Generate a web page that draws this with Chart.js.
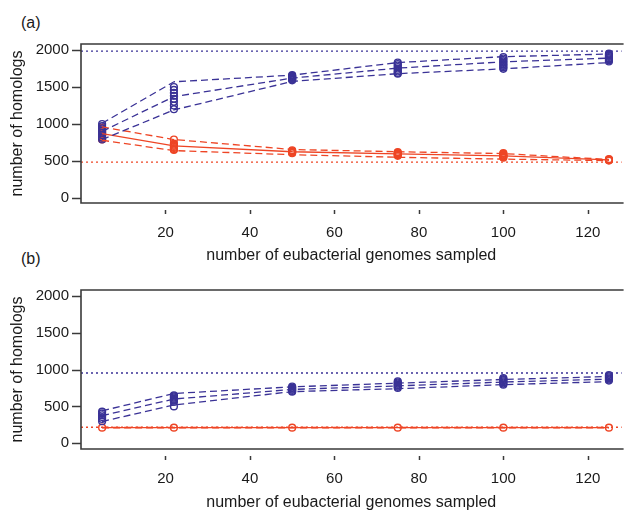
<!DOCTYPE html>
<html><head><meta charset="utf-8">
<script src="https://cdn.jsdelivr.net/npm/chart.js@4.4.1/dist/chart.umd.min.js"></script>
<style>
html,body{margin:0;padding:0;background:#fff;width:627px;height:510px;overflow:hidden;}
.wrap{position:absolute;left:0;width:627px;}
.lab{position:absolute;font-family:"Liberation Sans",Arial,sans-serif;font-size:16px;color:#1a1a1a;line-height:18px;}
</style></head><body>
<div class="lab" style="left:21px;top:14px">(a)</div>
<div class="lab" style="left:21px;top:250px">(b)</div>
<div class="wrap" style="top:0;height:270px"><canvas id="ca"></canvas></div>
<div class="wrap" style="top:250px;height:260px"><canvas id="cb"></canvas></div>
<script>
// ---- data ----
const genomes = [5, 22, 50, 75, 100, 125];
const xTickValues = [20, 40, 60, 80, 100, 120];
const yTickValues = [0, 500, 1000, 1500, 2000];
const xTitle = "number of eubacterial genomes sampled";
const yTitle = "number of homologs";

// panel (a)
const blueUpperA = [1010, 1570, 1660, 1830, 1910, 1945];
const blueMidA   = [900, 1370, 1620, 1755, 1840, 1890];
const blueLowerA = [790, 1190, 1575, 1680, 1745, 1830];
const bluePtsA = [
  [1000, 970, 940, 910, 880, 850, 815, 790],
  [1500, 1460, 1420, 1380, 1340, 1300, 1250, 1200],
  [1660, 1650, 1640, 1630, 1620, 1610, 1600, 1590],
  [1830, 1810, 1790, 1770, 1750, 1730, 1710, 1690, 1680],
  [1905, 1885, 1865, 1845, 1825, 1805, 1785, 1765, 1745],
  [1950, 1935, 1920, 1905, 1890, 1875, 1860, 1845]
];
const redMeanA  = [870, 705, 625, 595, 570, 515];
const redUpperA = [960, 790, 655, 625, 600, 520];
const redLowerA = [780, 640, 585, 550, 525, 505];
const redPtsA = [
  [950, 925, 905, 890, 875, 860, 845, 830, 810, 790],
  [790, 735, 720, 705, 690, 675, 660, 650],
  [645, 635, 625, 615, 605],
  [620, 610, 600, 590, 580, 570],
  [605, 595, 585, 575, 565, 555, 545],
  [525, 518, 512, 505]
];
const blueLevelA = 1985;
const redLevelA = 485;

// panel (b)
const blueUpperB = [440, 675, 765, 815, 865, 905];
const blueMidB   = [375, 600, 730, 778, 830, 870];
const blueLowerB = [295, 520, 700, 740, 795, 835];
const bluePtsB = [
  [430, 405, 380, 355, 330, 300],
  [650, 635, 620, 605, 590, 575, 560, 500],
  [770, 755, 740, 725, 710, 700],
  [840, 825, 810, 795, 780, 765, 750],
  [885, 870, 855, 840, 825, 810, 795],
  [925, 910, 895, 880, 865, 850]
];
const redMeanB  = [212, 212, 212, 212, 212, 212];
const redUpperB = [215, 215, 215, 215, 215, 215];
const redLowerB = [209, 209, 209, 209, 209, 209];
const redPtsB = [[212], [212], [212], [212], [212], [212]];
const blueLevelB = 952;
const redLevelB = 217;

// ---- styling ----
const BLUE = '#3a3296';
const RED = '#ee4525';
const AXIS = '#3a3a3a';
const TXT = '#1a1a1a';
const FONT = '"Liberation Sans", Arial, sans-serif';

function lineSet(arr, color, dashed) {
  return {
    type: 'line',
    data: genomes.map((x, i) => ({x: x, y: arr[i]})),
    borderColor: color, borderWidth: 1.3,
    borderDash: dashed ? [7, 4] : [],
    pointRadius: 0, fill: false, tension: 0
  };
}
function pointSet(pts, color) {
  const d = [];
  pts.forEach((list, i) => list.forEach(v => d.push({x: genomes[i], y: v})));
  return {
    type: 'scatter', data: d, showLine: false,
    pointStyle: 'circle', pointRadius: 3.4, pointBorderWidth: 1.4,
    pointBorderColor: color, pointBackgroundColor: 'rgba(255,255,255,0)',
    borderColor: color, backgroundColor: 'rgba(255,255,255,0)'
  };
}

const framePlugin = {
  id: 'frame',
  beforeDatasetsDraw(chart) {
    const o = chart.options.plugins.frame;
    const {ctx, chartArea: a, scales: {y}} = chart;
    ctx.save();
    ctx.lineWidth = 1.4;
    ctx.setLineDash([2, 3]);
    o.levels.forEach(l => {
      const py = y.getPixelForValue(l.value);
      ctx.strokeStyle = l.color;
      ctx.beginPath(); ctx.moveTo(a.left, py); ctx.lineTo(a.right, py); ctx.stroke();
    });
    ctx.restore();
  },
  afterDraw(chart) {
    const {ctx, chartArea: a, scales: {x, y}} = chart;
    ctx.save();
    ctx.strokeStyle = AXIS;
    ctx.lineWidth = 1.6;
    ctx.beginPath();
    ctx.moveTo(a.right + 2, a.top); ctx.lineTo(a.left, a.top);
    ctx.lineTo(a.left, a.bottom); ctx.lineTo(a.right + 2, a.bottom);
    ctx.stroke();
    ctx.lineWidth = 1.5;
    yTickValues.forEach(v => {
      const py = Math.round(y.getPixelForValue(v)) + 0.5;
      ctx.beginPath(); ctx.moveTo(a.left - 9, py); ctx.lineTo(a.left, py); ctx.stroke();
    });
    xTickValues.forEach(v => {
      const px = Math.round(x.getPixelForValue(v)) + 0.5;
      ctx.beginPath(); ctx.moveTo(px, a.bottom + 7); ctx.lineTo(px, a.bottom + 11); ctx.stroke();
    });
    ctx.restore();
  }
};

function makeChart(id, cfg) {
  const datasets = [
    lineSet(cfg.bU, BLUE, true), lineSet(cfg.bM, BLUE, true), lineSet(cfg.bL, BLUE, true),
    lineSet(cfg.rU, RED, true), lineSet(cfg.rL, RED, true), lineSet(cfg.rM, RED, false),
    pointSet(cfg.bP, BLUE), pointSet(cfg.rP, RED)
  ];
  return new Chart(document.getElementById(id), {
    type: 'scatter',
    data: {datasets: datasets},
    plugins: [framePlugin],
    options: {
      responsive: true, maintainAspectRatio: false, animation: false,
      layout: {padding: {top: cfg.padTop, left: 0, right: 0, bottom: 0}},
      plugins: {
        legend: {display: false}, tooltip: {enabled: false},
        frame: {levels: [{value: cfg.bLevel, color: BLUE}, {value: cfg.rLevel, color: RED}]}
      },
      scales: {
        x: {
          type: 'linear', min: 0, max: 128,
          grid: {display: false, drawTicks: false}, border: {display: false},
          afterBuildTicks: s => { s.ticks = xTickValues.map(v => ({value: v})); },
          afterFit: s => { s.height = cfg.xH; },
          ticks: {font: {family: FONT, size: 15}, color: TXT, padding: 21, maxRotation: 0,
                  callback: v => String(v)},
          title: {display: true, text: xTitle, color: TXT, font: {family: FONT, size: 16}, padding: {top: 0, bottom: cfg.xTitlePad}}
        },
        y: {
          type: 'linear', min: cfg.yMin, max: cfg.yMax,
          grid: {display: false, drawTicks: false}, border: {display: false},
          afterBuildTicks: s => { s.ticks = yTickValues.map(v => ({value: v})); },
          afterFit: s => { s.width = 81; },
          ticks: {font: {family: FONT, size: 15}, color: TXT, padding: 12,
                  callback: v => String(v)},
          title: {display: true, text: yTitle, color: TXT, font: {family: FONT, size: 16}, padding: {top: 8, bottom: 0}}
        }
      }
    }
  });
}

makeChart('ca', {
  bU: blueUpperA, bM: blueMidA, bL: blueLowerA, bP: bluePtsA,
  rU: redUpperA, rM: redMeanA, rL: redLowerA, rP: redPtsA,
  bLevel: blueLevelA, rLevel: redLevelA,
  yMin: -68, yMax: 2081, padTop: 44, xH: 67, xTitlePad: 5
});
makeChart('cb', {
  bU: blueUpperB, bM: blueMidB, bL: blueLowerB, bP: bluePtsB,
  rU: redUpperB, rM: redMeanB, rL: redLowerB, rP: redPtsB,
  bLevel: blueLevelB, rLevel: redLevelB,
  yMin: -77, yMax: 2077, padTop: 40, xH: 61, xTitlePad: -2
});
</script>
</body></html>
